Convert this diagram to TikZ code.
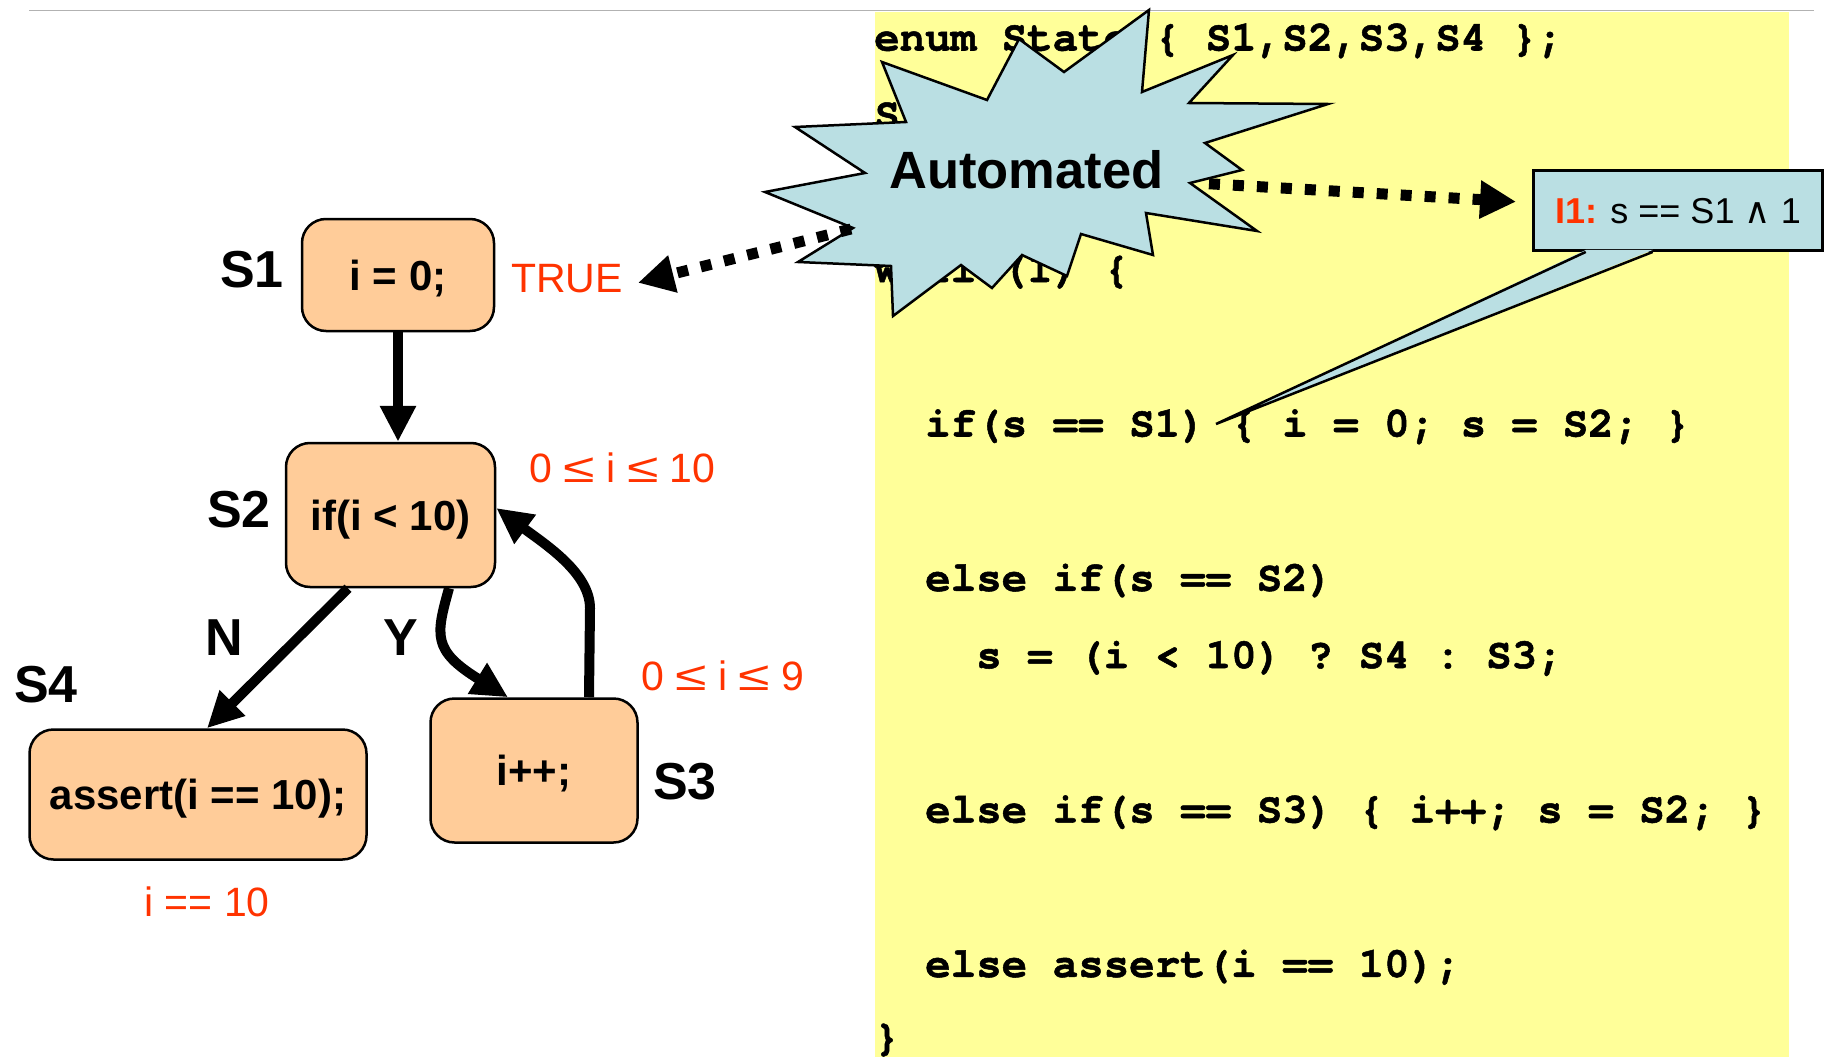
\documentclass[tikz,border=0pt]{standalone}
\usepackage{fontspec}
\usepackage{graphicx}
\setmainfont{Liberation Sans}
\setmonofont{texgyrecursor}[Extension=.otf, UprightFont=*-regular, BoldFont=*-bold,
  BoldFeatures={FakeBold=1.2}]
\newfontfamily\symfont{DejaVu Sans}
\usetikzlibrary{arrows.meta}

\definecolor{peach}{RGB}{255,204,153}
\definecolor{codebg}{RGB}{255,255,153}
\definecolor{burst}{RGB}{186,223,227}
\definecolor{redann}{RGB}{255,51,0}
\definecolor{rulegray}{RGB}{178,178,178}

\newcommand{\fs}[1]{\fontsize{#1pt}{#1pt}\selectfont}
\newcommand{\leqs}{\scalebox{1.4}[1]{≤}}

\tikzset{
  stbox/.style={draw, line width=2.5pt, fill=peach, rounded corners=24pt,
    font=\fs{42}\bfseries, text height=30pt, text depth=0pt, inner sep=0pt},
  slabel/.style={font=\fs{52}\bfseries, anchor=base, inner sep=0pt},
  redtext/.style={font=\fs{41}, text=redann, anchor=base, inner sep=0pt},
  flow/.style={line width=10pt, -{Triangle[length=36pt,width=34pt]}},
  autoarrow/.style={line width=11pt, dash pattern=on 11pt off 13pt,
    -{Triangle[length=36pt,width=36pt]}},
  codeline/.style={font=\fs{42.5}\ttfamily\bfseries, anchor=base west, inner sep=0pt},
}

\begin{document}
\begin{tikzpicture}[x=1pt, y=-1pt, line join=miter]
\useasboundingbox (0,0) rectangle (1824,1057);

% header rule and code panel
\draw[rulegray, line width=1.5pt] (29,10.7) -- (1814,10.7);
\fill[codebg] (875,12) rectangle (1789,1057);

% program text
\node[codeline] (c0)  at (874,50.5)   {enum State \{ S1,S2,S3,S4 \};};
\node[codeline] (c1)  at (874,127.7)  {S};
\node[codeline] (c3)  at (874,282.1)  {while(1) \{};
\node[codeline] (c5)  at (925,436.5)  {if(s == S1) \{ i = 0; s = S2; \}};
\node[codeline] (c7)  at (925,590.9)  {else if(s == S2)};
\node[codeline] (c8)  at (976,668.1)  {s = (i < 10) ? S4 : S3;};
\node[codeline] (c10) at (925,822.5)  {else if(s == S3) \{ i++; s = S2; \}};
\node[codeline] (c12) at (925,976.9)  {else assert(i == 10);};
\node[codeline] (c13) at (874,1050)   {\}};

% flow graph
\node[stbox, minimum width=192pt, minimum height=112pt] (s1) at (398,275)   {i = 0;};
\node[stbox, minimum width=209pt, minimum height=144pt] (s2) at (390.5,515) {if(i < 10)};
\node[stbox, minimum width=337pt, minimum height=130pt] (s4) at (198,794.5) {assert(i == 10);};
\node[stbox, minimum width=207pt, minimum height=144pt] (s3) at (534,770.5) {i++;};

\node[slabel] (l1) at (252,287.3) {S1};
\node[slabel] (l2) at (239,527)   {S2};
\node[slabel] (l4) at (46,702.7)  {S4};
\node[slabel] (l3) at (685,799)   {S3};
\node[slabel] (ln) at (224.4,655) {N};
\node[slabel] (ly) at (400.5,655) {Y};

\node[redtext] (inv1) at (567,292.7)   {TRUE};
\node[redtext] (inv2) at (622.5,482.7) {0 \leqs\ i \leqs\ 10};
\node[redtext] (inv3) at (722.7,690)   {0 \leqs\ i \leqs\ 9};
\node[redtext] (inv4) at (207,916.7)   {i == 10};

\draw[flow] (s1.south) -- (s1.south |- s2.north);
\draw[flow] ([xshift=-42.5pt]s2.south) -- ([xshift=9pt]s4.north);
\draw[flow] ([xshift=58.5pt]s2.south) .. controls +(-13,47) and +(-76,-47) .. ([xshift=-26pt]s3.north);
\draw[flow] ([xshift=55pt]s3.north) -- ++(1,-89)
  .. controls +(0,-35) and +(50,37) .. ([yshift=7pt]s2.east);

% starburst
\draw[fill=burst, line width=2.5pt]
  (1149,10) -- (1142,92) -- (1233,55) -- (1189,103) -- (1328,104) -- (1205,143)
  -- (1242,170) -- (1190,183) -- (1257,231) -- (1146,213) -- (1153,255)
  -- (1081,234) -- (1067,276) -- (1022,255) -- (992,288) -- (961,265)
  -- (893,316) -- (891,266) -- (798,262) -- (853,228) -- (765,192)
  -- (865,173) -- (795,127) -- (906,122) -- (882,62) -- (987,100)
  -- (1019,39) -- (1064,72) -- cycle;
\node[font=\fs{52.5}\bfseries, anchor=base, inner sep=0pt] (burstlbl) at (1026.5,188) {Automated};
\coordinate (bl) at (851,229);
\coordinate (br) at (1196,183);

% invariant callout
\node[draw, fill=burst, line width=2.5pt, minimum width=289.4pt, minimum height=80pt,
  inner sep=0pt, text height=26pt, text depth=0pt, font=\fs{36}] (ibox) at (1678,210.7)
  {{\color{redann}\bfseries I1:} s == S1 {\symfont\fs{36}∧} 1};
\coordinate (tip) at (1216,424);
\fill[burst] ([xshift=53.7pt,yshift=2pt]ibox.south west) -- (tip)
  -- ([xshift=120.7pt,yshift=2pt]ibox.south west) -- cycle;
\draw[line width=2.5pt] ([xshift=53.7pt]ibox.south west) -- (tip)
  -- ([xshift=120.7pt]ibox.south west);

% dotted arrows out of the starburst
\draw[autoarrow] (bl) -- ([xshift=15pt,yshift=-4pt]inv1.east);
\draw[autoarrow, dash phase=11pt] (br) -- ([xshift=-16pt,yshift=9pt]ibox.west);
\end{tikzpicture}
\end{document}
